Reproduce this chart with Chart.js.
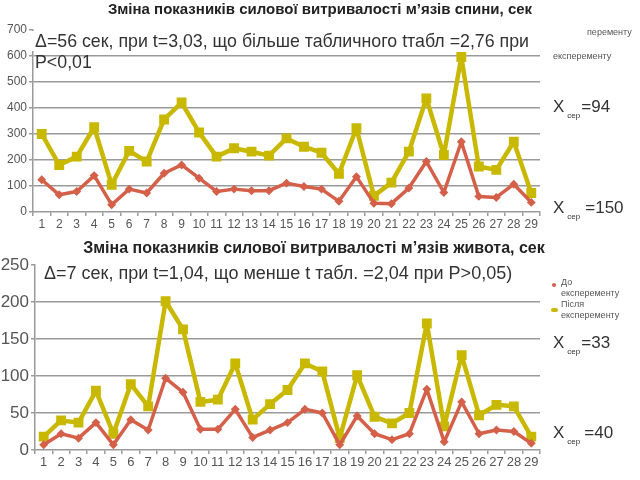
<!DOCTYPE html>
<html>
<head>
<meta charset="utf-8">
<script src="https://cdn.jsdelivr.net/npm/chart.js@4"></script>
<style>
  html, body { margin:0; padding:0; background:#fff; }
  #wrap { position:relative; width:640px; height:480px; overflow:hidden; background:#fff; font-family:"Liberation Sans", Arial, sans-serif; }
  canvas { position:absolute; left:0; }
  .t { position:absolute; white-space:nowrap; }
  .title { font-weight:bold; color:#222; width:640px; text-align:center; left:0; }
  .ann { font-size:17.8px; color:#333; line-height:21px; }
  .xs { font-size:17px; color:#333; }
  .xs .s { font-size:8px; position:relative; top:6px; margin:0 1px 0 3px; }
  .leg { font-size:9px; color:#555; line-height:11px; }
</style>
</head>
<body>
<div id="wrap">
  <canvas id="c1" width="640" height="230" style="top:0"></canvas>
  <canvas id="c2" width="640" height="250" style="top:230px"></canvas>

  <div class="t title" style="top:0px; font-size:15px;">Зміна показників силової витривалості м’язів спини, сек</div>
  <div class="t ann" style="left:27px; top:31px;"><span style="background:#fff; padding:0 10px 0 8px;">Δ=56 сек, при t=3,03, що більше табличного tтабл =2,76 при</span><br><span style="padding-left:8px;">P&lt;0,01</span></div>
  <div class="t leg" style="left:587px; top:27px;">перементу</div>
  <div class="t leg" style="left:553px; top:51px;">експеременту</div>
  <div class="t xs" style="left:553px; top:97px;">X<span class="s">сер</span>=94</div>
  <div class="t xs" style="left:553px; top:198px;">X<span class="s" style="margin-right:5px;">сер</span>=150</div>

  <div class="t title" style="top:239px; left:-6px; font-size:16px;">Зміна показників силової витривалості м’язів живота, сек</div>
  <div class="t ann" style="left:44px; top:263px; font-size:18px;">Δ=7 сек, при t=1,04, що менше t табл. =2,04 при P&gt;0,05)</div>
  <div class="t" style="left:552px; top:283px; width:4px; height:4px; border-radius:2px; background:#D4604A;"></div>
  <div class="t leg" style="left:561px; top:277px;">До<br>експеременту</div>
  <div class="t" style="left:551px; top:308px; width:7px; height:4px; border-radius:2px; background:#C9B800;"></div>
  <div class="t leg" style="left:561px; top:299px;">Після<br>експеременту</div>
  <div class="t xs" style="left:553px; top:333px;">X<span class="s">сер</span>=33</div>
  <div class="t xs" style="left:553px; top:423px;">X<span class="s" style="margin-right:4px;">сер</span>=40</div>
</div>
<script>
const categories = ["1","2","3","4","5","6","7","8","9","10","11","12","13","14","15","16","17","18","19","20","21","22","23","24","25","26","27","28","29"];
const seriesNames = ["До експеременту", "Після експеременту"];

const backBefore = [124,66,79,140,28,88,73,149,181,130,79,88,82,82,111,98,88,41,136,34,32,92,194,75,270,60,56,107,37];
const backAfter  = [300,181,213,326,105,235,194,356,421,306,213,245,232,217,283,251,228,147,322,62,113,232,437,219,596,175,162,270,73];
const backTicks  = [0,100,200,300,400,500,600,700];

const absBefore = [7,22,16,37,7,41,27,97,78,28,28,55,17,27,37,55,50,7,46,22,14,22,82,11,65,22,27,25,9];
const absAfter  = [18,40,37,80,22,89,59,201,163,65,68,117,41,62,81,117,106,16,101,45,36,50,171,32,128,47,61,59,18];
const absTicks  = [0,50,100,150,200,250];

const RED = "#D4604A";
const YEL = "#C9B800";
const GRID = "#9a9a9a";
const FONT = "'Liberation Sans', Arial, sans-serif";

function makeChart(id, before, after, ticks, opt) {
  const maxV = ticks[ticks.length - 1];
  return new Chart(document.getElementById(id), {
    type: "line",
    data: {
      labels: categories,
      datasets: [
        { label: seriesNames[0], data: before, borderColor: RED, backgroundColor: RED,
          borderWidth: 3.5, pointRadius: 2, pointStyle: "rectRot", tension: 0, borderJoinStyle: "round" },
        { label: seriesNames[1], data: after, borderColor: YEL, backgroundColor: YEL,
          borderWidth: 4.5, pointRadius: 3.8, pointStyle: "rect", tension: 0, borderJoinStyle: "round" }
      ]
    },
    options: {
      responsive: false,
      animation: false,
      events: [],
      layout: { padding: opt.padding },
      plugins: { legend: { display: false }, tooltip: { enabled: false }, title: { display: false } },
      scales: {
        x: {
          type: "category",
          offset: true,
          grid: { offset: true, drawOnChartArea: false, tickLength: 4, color: GRID, lineWidth: 1.5 },
          border: { color: GRID, width: 1.5 },
          ticks: { color: "#555", font: { family: FONT, size: opt.xFont }, maxRotation: 0, autoSkip: false, padding: 1 },
          afterFit: s => { s.height = opt.xH; }
        },
        y: {
          min: 0, max: maxV,
          afterBuildTicks: s => { s.ticks = ticks.map(v => ({ value: v })); },
          grid: {
            color: c => (c.tick && (c.tick.value === 0 || c.tick.value === maxV)) ? "rgba(0,0,0,0)" : GRID,
            tickColor: GRID, lineWidth: 1.5, tickLength: 4
          },
          border: { color: GRID, width: 1.5 },
          ticks: { color: "#555", font: { family: FONT, size: opt.yFont }, padding: 2 },
          afterFit: s => { s.width = opt.yW; }
        }
      }
    }
  });
}

makeChart("c1", backBefore, backAfter, backTicks,
  { padding: { top: 30, right: 100, bottom: 0, left: 0 }, xFont: 12, yFont: 12, xH: 18, yW: 33 });
makeChart("c2", absBefore, absAfter, absTicks,
  { padding: { top: 35, right: 100, bottom: 10, left: 0 }, xFont: 13, yFont: 17, xH: 20, yW: 35 });
</script>
</body>
</html>
